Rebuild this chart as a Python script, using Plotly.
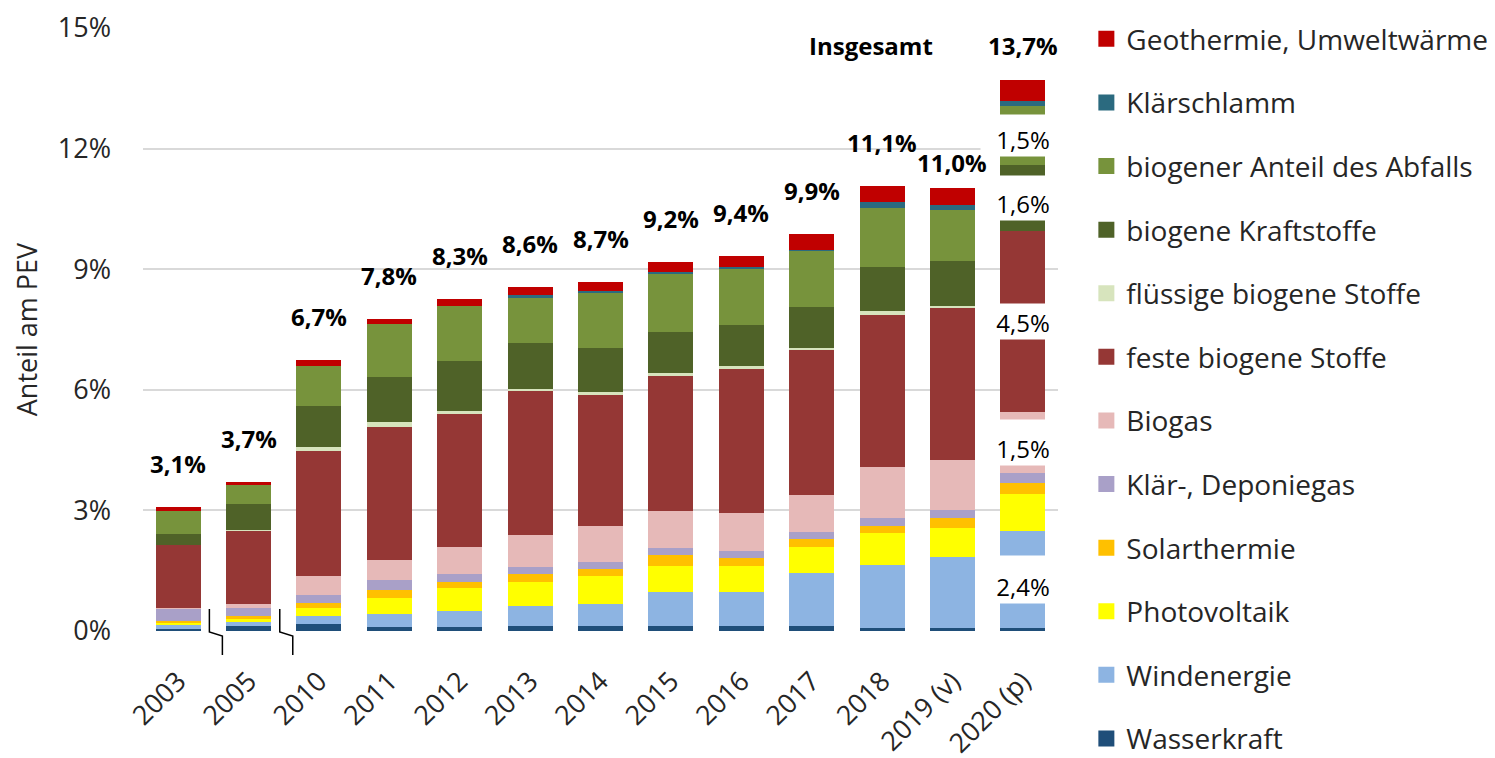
import plotly.graph_objects as go

# Anteil erneuerbarer Energien am Primärenergieverbrauch (PEV), in %
JAHRE = ["2003", "2005", "2010", "2011", "2012", "2013", "2014", "2015",
         "2016", "2017", "2018", "2019 (v)", "2020 (p)"]

WASSERKRAFT = [0.06, 0.12, 0.17, 0.11, 0.11, 0.12, 0.12, 0.12, 0.12, 0.13, 0.08, 0.07, 0.08]
WINDENERGIE = [0.11, 0.11, 0.21, 0.32, 0.39, 0.51, 0.56, 0.85, 0.85, 1.31, 1.55, 1.77, 2.41]
PHOTOVOLTAIK = [0.02, 0.07, 0.19, 0.40, 0.58, 0.60, 0.68, 0.65, 0.64, 0.66, 0.81, 0.73, 0.93]
SOLARTHERMIE = [0.06, 0.07, 0.12, 0.19, 0.14, 0.18, 0.19, 0.26, 0.21, 0.19, 0.17, 0.24, 0.25]
DEPONIEGAS = [0.31, 0.21, 0.21, 0.25, 0.21, 0.19, 0.17, 0.18, 0.18, 0.18, 0.21, 0.19, 0.27]
BIOGAS = [0.02, 0.08, 0.47, 0.49, 0.66, 0.79, 0.88, 0.93, 0.93, 0.92, 1.26, 1.26, 1.52]
FESTE = [1.57, 1.85, 3.12, 3.31, 3.31, 3.59, 3.27, 3.35, 3.58, 3.61, 3.79, 3.79, 4.48]
FLUESSIGE = [0.0, 0.01, 0.09, 0.13, 0.08, 0.03, 0.07, 0.07, 0.07, 0.05, 0.10, 0.03, 0.0]
KRAFTSTOFFE = [0.26, 0.64, 1.01, 1.13, 1.24, 1.16, 1.09, 1.02, 1.03, 1.02, 1.09, 1.12, 1.64]
ABFALL = [0.58, 0.47, 1.01, 1.30, 1.36, 1.12, 1.38, 1.46, 1.39, 1.39, 1.47, 1.27, 1.47]
KLAERSCHLAMM = [0.0, 0.0, 0.0, 0.0, 0.0, 0.06, 0.04, 0.05, 0.06, 0.03, 0.13, 0.12, 0.13]
GEOTHERMIE = [0.10, 0.08, 0.13, 0.12, 0.18, 0.21, 0.23, 0.24, 0.26, 0.38, 0.40, 0.42, 0.53]

GESAMT = [3.1, 3.7, 6.7, 7.8, 8.3, 8.6, 8.7, 9.2, 9.4, 9.9, 11.1, 11.0, 13.7]

Y_TICKS = [0, 3, 6, 9, 12, 15]

# Segmente des Balkens 2020, die mit ihrem Wert beschriftet werden
BESCHRIFTET_2020 = ["Windenergie", "Biogas", "feste biogene Stoffe",
                    "biogene Kraftstoffe", "biogener Anteil des Abfalls"]

serien = [
    ("Wasserkraft", WASSERKRAFT, "#1F4E79"),
    ("Windenergie", WINDENERGIE, "#8DB4E2"),
    ("Photovoltaik", PHOTOVOLTAIK, "#FFFF00"),
    ("Solarthermie", SOLARTHERMIE, "#FFC000"),
    ("Klär-, Deponiegas", DEPONIEGAS, "#A9A0C8"),
    ("Biogas", BIOGAS, "#E6B9B8"),
    ("feste biogene Stoffe", FESTE, "#953735"),
    ("flüssige biogene Stoffe", FLUESSIGE, "#D7E4BD"),
    ("biogene Kraftstoffe", KRAFTSTOFFE, "#4F6228"),
    ("biogener Anteil des Abfalls", ABFALL, "#77933C"),
    ("Klärschlamm", KLAERSCHLAMM, "#2B6A7F"),
    ("Geothermie, Umweltwärme", GEOTHERMIE, "#C00000"),
]

FONT = "Open Sans"
TEXT = "#262626"


def komma(v):
    return f"{v:.1f}".replace(".", ",") + "%"


fig = go.Figure()
for rang, (name, werte, farbe) in enumerate(serien):
    fig.add_trace(go.Bar(x=JAHRE, y=werte, name=name, legendgroup=name,
                         showlegend=False,
                         marker=dict(color=farbe, line=dict(width=0)),
                         hovertemplate="%{x}: %{y:.2f}%<extra>" + name + "</extra>"))
    # nur für die Legende: größeres Farbquadrat als das Standard-Balkensymbol
    fig.add_trace(go.Scatter(x=[None], y=[None], mode="markers", name=name,
                             legendgroup=name, legendrank=1000 - rang,
                             marker=dict(symbol="square", size=16, color=farbe)))

# Summenbeschriftung über den Balken (x als Kategorienindex, da die Jahre
# sonst als Zahlen gelesen würden)
stapel = [sum(s[1][i] for s in serien) for i in range(len(JAHRE))]
abstand = {"2019 (v)": 7, "2020 (p)": 16}
for i, jahr in enumerate(JAHRE):
    fig.add_annotation(x=i, y=stapel[i], text=komma(GESAMT[i]), showarrow=False,
                       yanchor="bottom", yshift=abstand.get(jahr, 25),
                       font=dict(family=FONT, size=24, color="black", weight="bold"))
fig.add_annotation(x=len(JAHRE) - 1, y=stapel[-1], text="Insgesamt", showarrow=False,
                   xanchor="right", yanchor="bottom", xshift=-88, yshift=16,
                   font=dict(family=FONT, size=24, color="black", weight="bold"))

# 2020: ausgewählte Segmente aufgetrennt und mit ihrem Anteil beschriftet
luecke_px = [47, 45, 35, 44, 41]
basis = 0.0
k = 0
for name, werte, farbe in serien:
    v = werte[-1]
    if name in BESCHRIFTET_2020:
        fig.add_annotation(x=len(JAHRE) - 1, y=basis + v / 2, text=komma(v),
                           showarrow=False, bgcolor="white", width=84,
                           height=luecke_px[k], borderpad=0, valign="bottom",
                           font=dict(family=FONT, size=24, color="black"))
        k += 1
    basis += v

# Achsenbruch-Markierungen zwischen 2003/2005 und 2005/2010
for i in (0.5, 1.5):
    fig.add_shape(type="path", xref="paper", yref="paper",
                  xsizemode="pixel", ysizemode="pixel",
                  xanchor=(i + 0.5) / len(JAHRE), yanchor=0,
                  path="M -4,22 L -4,-1 L 9,-5 L 9,-24",
                  line=dict(color="black", width=1.5))

# die Seite hat 8 px Rand: Figur entsprechend kleiner und nach oben/links versetzt
fig.update_layout(
    barmode="stack", bargap=0.36,
    width=1487, height=750,
    margin=dict(l=135, r=437, t=20, b=127, autoexpand=False),
    paper_bgcolor="white", plot_bgcolor="white",
    font=dict(family=FONT, size=27, color=TEXT),
    showlegend=True,
    legend=dict(traceorder="grouped", x=1.031, xanchor="left",
                y=1.023, yanchor="top", maxheight=1,
                font=dict(family=FONT, size=28, color=TEXT),
                tracegroupgap=24.2, itemclick=False, bgcolor="rgba(0,0,0,0)"),
    xaxis=dict(type="category", range=[-0.5, len(JAHRE) - 0.5], tickangle=-45,
               showgrid=False, showline=False, ticks="", automargin=False,
               ticklabelstandoff=28,
               tickfont=dict(family=FONT, size=27, color=TEXT)),
    yaxis=dict(range=[0, 15], tickvals=Y_TICKS, ticktext=[f"{v}%" for v in Y_TICKS],
               showgrid=True, gridcolor="#D9D9D9", gridwidth=1.5, zeroline=False,
               showline=False, ticks="", ticklabelstandoff=31, automargin=False,
               tickfont=dict(family=FONT, size=27, color=TEXT),
               title=dict(text="Anteil am PEV", standoff=14,
                          font=dict(family=FONT, size=27, color=TEXT))),
)

fig.write_html("out.html")
